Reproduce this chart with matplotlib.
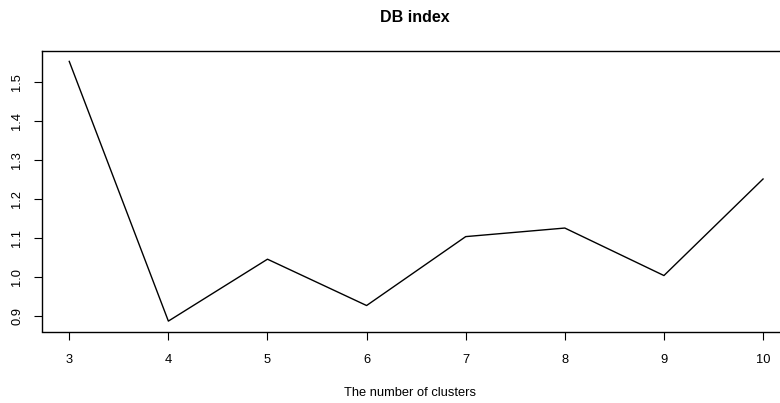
import matplotlib
matplotlib.use('Agg')
import matplotlib.pyplot as plt

plt.rcParams['font.family'] = ['Liberation Sans', 'DejaVu Sans']

clusters = [3, 4, 5, 6, 7, 8, 9, 10]
db_index = [1.554, 0.887, 1.046, 0.927, 1.104, 1.126, 1.004, 1.252]
yticks = [0.9, 1.0, 1.1, 1.2, 1.3, 1.4, 1.5]

fig = plt.figure(figsize=(7.8, 4.03), dpi=100)
W, H = 780, 403
# axes box (R style, right edge runs past the figure)
left, right, top, bottom = 41.5, 790.8, 51.0, 331.5
ax = fig.add_axes([left / W, (H - bottom) / H, (right - left) / W, (bottom - top) / H])

ax.plot(clusters, db_index, color='black', linewidth=1.0)

ax.set_xlim(2.72, 10.28)
ax.set_ylim(0.8603, 1.5807)
ax.set_xticks(clusters)
ax.set_yticks(yticks)
ax.set_yticklabels([f'{v:.1f}' for v in yticks], rotation=90, va='center')
ax.tick_params(axis='both', length=6, width=0.8, labelsize=9.3, colors='black')
ax.tick_params(axis='x', pad=10.5)
ax.tick_params(axis='y', pad=7)
for s in ax.spines.values():
    s.set_linewidth(1.0)

fig.text(415 / W, 1 - 18 / H, 'DB index', ha='center', va='center',
         fontsize=11.5, fontweight='bold')
fig.text(410 / W, 1 - 393 / H, 'The number of clusters', ha='center', va='center',
         fontsize=9.3)

plt.savefig('out.png', dpi=100)
